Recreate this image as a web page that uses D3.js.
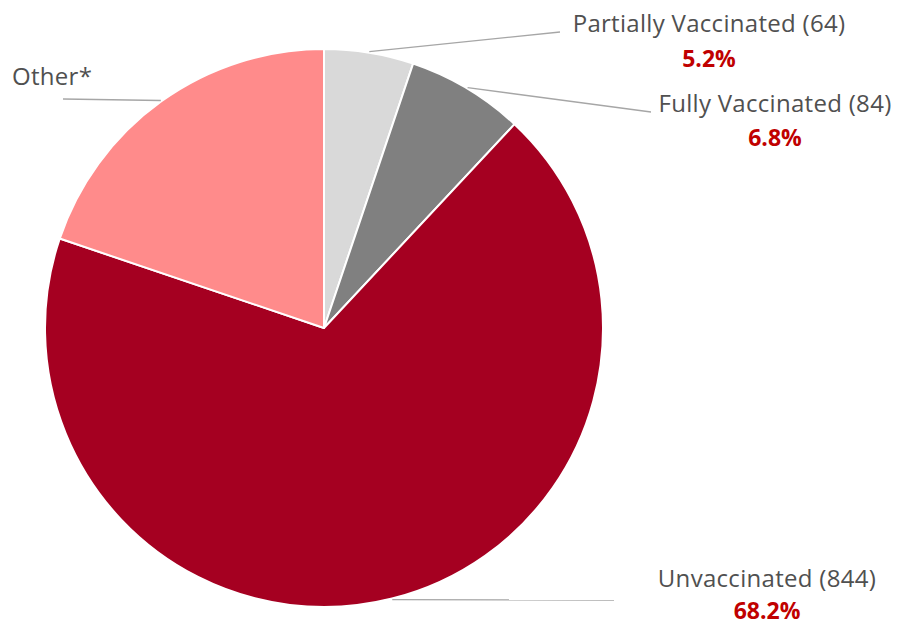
<!DOCTYPE html>
<html><head><meta charset="utf-8">
<script src="https://cdn.jsdelivr.net/npm/d3@7"></script>
<style>body{margin:0;background:#fff}svg{display:block}</style>
</head><body><svg id="c" width="898" height="627"></svg>
<script>
const categories = ["Partially Vaccinated", "Fully Vaccinated", "Unvaccinated", "Other*"];
const counts = [64, 84, 844, 245];
const showCount = [true, true, true, false];
const percents = ["5.2%", "6.8%", "68.2%", null];
const colors = ["#d9d9d9", "#808080", "#a50021", "#ff8b8b"];

const svg = d3.select("#c");
const cx = 324, cy = 328, r = 279;
const data = categories.map((c, i) => ({name: c, value: counts[i], i}));
const pie = d3.pie().value(d => d.value).sort(null);
const arcs = pie(data);
const arc = d3.arc().innerRadius(0).outerRadius(r);
const g = svg.append("g").attr("transform", `translate(${cx},${cy})`);
g.selectAll("path").data(arcs).join("path")
  .attr("d", arc).attr("fill", d => colors[d.data.i])
  .attr("stroke", "#fff").attr("stroke-width", 2).attr("stroke-linejoin", "round");

const layout = [
  {end: [560, 32], tx: 709, ty: 32, px: 709, py: 67, anchor: "middle"},
  {end: [651, 112], tx: 775, ty: 112, px: 775, py: 146, anchor: "middle"},
  {end: [614, 600], tx: 767, ty: 587, px: 767, py: 619, anchor: "middle"},
  {end: [63, 99], tx: 12, ty: 85, anchor: "start"}
];
const font = "'Open Sans', 'Liberation Sans', sans-serif";
arcs.forEach((a, k) => {
  const L = layout[k];
  const m = (a.startAngle + a.endAngle) / 2;
  const sx = cx + Math.sin(m) * (r + 1), sy = cy - Math.cos(m) * (r + 1);
  svg.append("line").attr("x1", sx).attr("y1", sy).attr("x2", L.end[0]).attr("y2", L.end[1])
    .attr("stroke", "#a6a6a6").attr("stroke-width", 1.3);
  svg.append("text").attr("x", L.tx).attr("y", L.ty).attr("text-anchor", L.anchor)
    .attr("font-family", font).attr("font-size", 24).attr("letter-spacing", 0.3).attr("fill", "#505050")
    .text(showCount[k] ? `${categories[k]} (${counts[k]})` : categories[k]);
  if (percents[k]) {
    svg.append("text").attr("x", L.px).attr("y", L.py).attr("text-anchor", "middle")
      .attr("font-family", font).attr("font-size", 23).attr("font-weight", "bold").attr("fill", "#c00000")
      .text(percents[k]);
  }
});
</script></body></html>
